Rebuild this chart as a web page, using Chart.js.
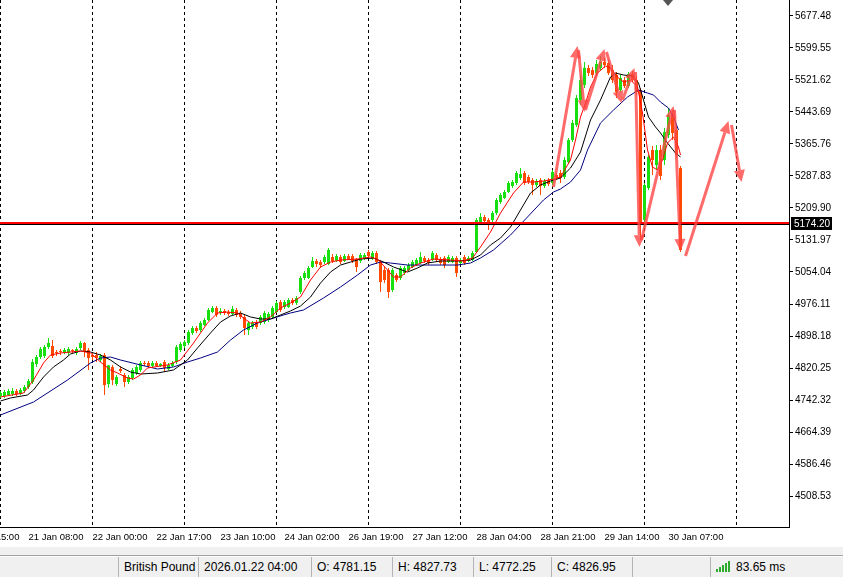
<!DOCTYPE html>
<html>
<head>
<meta charset="utf-8">
<title>British Pound H1</title>
<script src="https://cdn.jsdelivr.net/npm/chart.js@4.4.1/dist/chart.umd.min.js"></script>
<style>
    html, body { margin: 0; padding: 0; background: #fff; }
    #wrap { position: relative; width: 843px; height: 577px; overflow: hidden; font-family: "Liberation Sans", Arial, sans-serif; }
    #chart { position: absolute; left: 0; top: 0; }
    #shift { position: absolute; left: 663px; top: 0; width: 0; height: 0;
             border-left: 5px solid transparent; border-right: 5px solid transparent; border-top: 6px solid #555; }
    #tabs { position: absolute; left: 0; top: 547px; width: 843px; height: 8px; background: #f0f0f0; border-bottom: 1px solid #a0a0a0; }
    #status { position: absolute; left: 0; top: 557px; width: 843px; height: 20px; background: #f0f0f0; font-size: 12px; color: #000; }
    .cell { position: absolute; top: 0; height: 20px; line-height: 21px; white-space: nowrap; overflow: hidden;
            border-left: 1px solid #b4b4b4; padding-left: 5px; box-sizing: border-box; }
    .sig { position: absolute; bottom: 5px; width: 2px; background: #2eaa2e; }
</style>
</head>
<body>
<div id="wrap">
    <canvas id="chart" width="843" height="548"></canvas>
    <div id="shift"></div>
    <div id="tabs"></div>
    <div id="status"></div>
</div>
<script>
// right price scale
const yTicks = [5677.48, 5599.55, 5521.62, 5443.69, 5365.76, 5287.83, 5209.90, 5131.97,
                5054.04, 4976.11, 4898.18, 4820.25, 4742.32, 4664.39, 4586.46, 4508.53];

// time scale (bar index -> label)
const timeIdx = [-9, 7, 23, 39, 55, 71, 87, 103, 119, 135, 151, 167];
const timeLabels = ['20 Jan 15:00', '21 Jan 08:00', '22 Jan 00:00', '22 Jan 17:00', '23 Jan 10:00', '24 Jan 02:00',
                    '26 Jan 19:00', '27 Jan 12:00', '28 Jan 04:00', '28 Jan 21:00', '29 Jan 14:00', '30 Jan 07:00'];
const daySeparators = [0, 23, 46, 69, 92, 115, 138, 161, 184];

// H1 candles
const opens = [4752.1,4752.1,4754.5,4757.0,4764.3,4757.0,4764.3,4774.0,4786.1,4830.0,
    4847.0,4849.5,4871.4,4873.8,4859.2,4861.7,4856.8,4856.8,4864.1,4856.8,
    4869.0,4881.1,4864.1,4851.9,4851.9,4839.7,4851.9,4781.15,4822.7,4781.3,
    4817.8,4803.2,4786.1,4795.9,4808.1,4815.4,4832.4,4832.4,4825.2,4832.4,
    4825.2,4834.8,4817.8,4825.2,4834.8,4864.1,4873.8,4881.1,4905.5,4917.7,
    4912.8,4925.0,4937.1,4956.6,4966.4,4954.2,4959.1,4956.6,4951.8,4961.5,
    4954.2,4944.5,4912.8,4920.1,4932.2,4929.8,4932.2,4937.1,4944.5,4956.6,
    4980.9,4968.8,4968.8,4985.8,4978.5,5005.3,5039.4,5039.4,5066.2,5080.8,
    5078.3,5078.3,5073.5,5090.5,5080.8,5090.5,5080.8,5092.9,5092.9,5085.6,
    5080.8,5085.6,5102.7,5085.6,5100.3,5078.3,5058.9,5058.9,5010.2,5046.7,
    5039.4,5051.6,5058.9,5066.2,5071.0,5075.9,5088.1,5083.2,5083.2,5095.4,
    5085.6,5088.1,5078.3,5078.3,5088.1,5075.9,5090.5,5080.8,5083.2,5102.7,
    5173.4,5188.0,5180.7,5180.7,5197.7,5224.5,5234.2,5248.8,5263.5,5270.8,
    5283.0,5295.1,5285.4,5278.1,5265.9,5278.1,5263.5,5278.1,5270.8,5290.3,
    5295.1,5285.4,5321.9,5375.5,5412.0,5472.9,5509.4,5550.8,5545.9,5538.6,
    5550.8,5565.5,5563.0,5545.9,5533.8,5497.2,5521.6,5507.0,5536.2,5521.6,
    5497.2,5180.7,5258.6,5351.1,5314.6,5351.1,5326.8,5387.7,5436.4,5399.8,
    5307.3];
const highs = [4764.3,4766.7,4769.1,4771.6,4769.1,4771.6,4778.9,4793.4,4842.1,4851.9,
    4871.4,4876.3,4893.3,4888.4,4864.1,4866.5,4869.0,4871.4,4866.5,4871.4,
    4886.0,4883.5,4869.0,4856.8,4859.2,4854.4,4856.8,4827.73,4827.6,4803.2,
    4825.2,4808.1,4803.2,4820.3,4827.6,4837.3,4837.3,4837.3,4837.3,4837.3,
    4832.4,4839.7,4832.4,4837.3,4876.3,4883.5,4888.4,4912.8,4922.5,4922.5,
    4934.7,4942.0,4966.4,4971.2,4971.2,4966.4,4963.9,4961.5,4971.2,4966.4,
    4959.1,4949.3,4934.7,4934.7,4937.1,4949.3,4959.1,4956.6,4971.2,4983.4,
    4985.8,4985.8,4990.7,4990.7,4995.5,5044.2,5056.4,5068.6,5090.5,5085.6,
    5083.2,5095.4,5112.5,5097.8,5097.8,5095.4,5097.8,5097.8,5097.8,5088.1,
    5100.3,5100.3,5107.6,5105.2,5105.2,5083.2,5066.2,5063.8,5063.8,5051.6,
    5068.6,5068.6,5075.9,5083.2,5088.1,5102.7,5092.9,5088.1,5105.2,5100.3,
    5090.5,5092.9,5095.4,5092.9,5092.9,5088.1,5095.4,5092.9,5105.2,5185.5,
    5197.7,5192.8,5185.5,5202.6,5234.2,5246.4,5253.7,5275.6,5278.1,5300.0,
    5307.3,5300.0,5290.3,5283.0,5280.5,5283.0,5280.5,5283.0,5302.4,5295.1,
    5302.4,5334.1,5380.3,5424.2,5485.1,5533.8,5565.5,5558.1,5553.2,5570.3,
    5580.1,5575.2,5570.3,5558.1,5541.1,5533.8,5528.9,5541.1,5543.5,5531.3,
    5502.1,5270.8,5339.0,5360.9,5363.3,5363.3,5404.7,5453.4,5448.5,5409.6,
    5312.2];
const lows = [4747.2,4747.2,4752.1,4752.1,4752.1,4754.5,4759.4,4769.1,4781.3,4822.7,
    4842.1,4844.6,4866.5,4844.6,4849.5,4851.9,4854.4,4851.9,4856.8,4851.9,
    4864.1,4847.0,4815.4,4839.7,4834.8,4834.8,4754.5,4772.25,4778.9,4776.4,
    4808.1,4774.0,4781.3,4791.0,4803.2,4810.5,4825.2,4820.3,4822.7,4822.7,
    4822.7,4810.5,4815.4,4822.7,4830.0,4859.2,4869.0,4876.3,4900.6,4905.5,
    4907.9,4922.5,4934.7,4954.2,4944.5,4949.3,4949.3,4946.9,4949.3,4944.5,
    4939.6,4900.6,4900.6,4915.2,4915.2,4925.0,4927.4,4932.2,4942.0,4954.2,
    4956.6,4963.9,4966.4,4973.6,4973.6,5000.4,5034.5,5037.0,5063.8,5066.2,
    5063.8,5073.5,5071.0,5075.9,5078.3,5073.5,5078.3,5083.2,5075.9,5054.0,
    5075.9,5083.2,5088.1,5083.2,5073.5,5005.3,5027.2,4990.7,5005.3,5029.6,
    5034.5,5046.7,5056.4,5063.8,5068.6,5073.5,5075.9,5071.0,5080.8,5078.3,
    5071.0,5063.8,5075.9,5075.9,5041.8,5073.5,5071.0,5078.3,5080.8,5100.3,
    5168.5,5173.4,5156.3,5175.8,5192.8,5219.6,5231.8,5246.4,5258.6,5265.9,
    5278.1,5265.9,5268.3,5241.6,5261.0,5241.6,5258.6,5263.5,5265.9,5278.1,
    5270.8,5280.5,5317.0,5370.6,5407.2,5460.7,5502.1,5531.3,5526.5,5533.8,
    5545.9,5550.8,5533.8,5514.3,5477.8,5492.4,5502.1,5502.1,5516.7,5485.1,
    5132.0,5163.6,5253.7,5290.3,5302.4,5278.1,5314.6,5380.3,5375.5,5331.7,
    5102.7];
const closes = [4759.4,4761.8,4764.3,4764.3,4757.0,4766.7,4774.0,4788.6,4834.8,4847.0,
    4866.5,4871.4,4881.1,4849.5,4856.8,4859.2,4864.1,4866.5,4861.7,4866.5,
    4881.1,4861.7,4844.6,4847.0,4844.6,4849.5,4778.9,4826.95,4791.0,4798.3,
    4812.9,4786.1,4798.3,4815.4,4822.7,4832.4,4830.0,4825.2,4832.4,4825.2,
    4830.0,4820.3,4827.6,4832.4,4871.4,4878.7,4883.5,4907.9,4917.7,4910.3,
    4929.8,4937.1,4961.5,4966.4,4949.3,4959.1,4954.2,4951.8,4963.9,4949.3,
    4944.5,4917.7,4929.8,4929.8,4920.1,4944.5,4954.2,4951.8,4966.4,4978.5,
    4961.5,4980.9,4985.8,4978.5,4990.7,5039.4,5051.6,5063.8,5080.8,5073.5,
    5071.0,5090.5,5107.6,5080.8,5092.9,5078.3,5092.9,5085.6,5080.8,5066.2,
    5095.4,5095.4,5092.9,5100.3,5078.3,5029.6,5034.5,5005.3,5058.9,5034.5,
    5063.8,5063.8,5071.0,5078.3,5083.2,5090.5,5080.8,5075.9,5100.3,5083.2,
    5075.9,5071.0,5090.5,5088.1,5051.6,5083.2,5075.9,5088.1,5100.3,5180.7,
    5188.0,5178.2,5168.5,5197.7,5229.4,5241.6,5248.8,5270.8,5273.2,5295.1,
    5292.7,5270.8,5273.2,5265.9,5275.6,5263.5,5275.6,5268.3,5297.6,5283.0,
    5283.0,5326.8,5375.5,5416.9,5477.8,5521.6,5551.4,5538.6,5533.8,5560.6,
    5565.5,5558.1,5538.6,5521.6,5492.4,5526.5,5507.0,5536.2,5521.6,5492.4,
    5175.8,5265.9,5334.1,5326.8,5351.1,5287.8,5395.0,5436.4,5392.6,5339.0,
    5107.6];

// moving averages (bar index, price)
const maFastIdx = [0,5.75,8.25,10.75,12.5,15,20,22.5,25,27.5,29.25,31.75,33.25,35,36.75,41.75,45,48.25,51.75,54.25,
    56.75,59.25,60.75,62.5,65,67.5,70,72.5,75,77.5,80,82.5,85,89.25,92.5,94.5,96.75,98.25,100,102.5,
    105,108.25,112.5,115.75,118,120,122.5,125,128.25,130.75,133.25,135.75,138.25,140,142.5,143.75,145,146.25,147.5,149.25,
    151.25,152.5,154.25,155.75,157.5,159.25,160.5,161.75,163,164.25,165.5,166.75,168.25,169.5,170];
const maFastVal = [4749.7,4759.4,4791.0,4832.4,4851.9,4856.8,4861.7,4856.8,4834.8,4815.4,4808.1,4795.9,4793.4,4803.2,4820.3,4827.6,4839.7,4881.1,4929.8,4954.2,
    4956.6,4954.2,4942.0,4929.8,4932.2,4944.5,4966.4,4978.5,4993.1,5034.5,5066.2,5078.3,5083.2,5085.6,5090.5,5083.2,5058.9,5041.8,5041.8,5063.8,
    5075.9,5085.6,5083.2,5080.8,5088.1,5114.9,5151.4,5197.7,5246.4,5273.2,5273.2,5275.6,5280.5,5285.4,5326.8,5375.5,5431.5,5465.6,5504.5,5538.6,
    5555.7,5550.8,5528.9,5516.7,5521.6,5504.5,5441.2,5351.1,5309.7,5302.4,5326.8,5368.2,5382.8,5358.4,5338.9];
const maMidIdx = [0,2.5,6.75,8.25,10.75,13.25,15.75,17.5,20,22.5,25,27.5,30,32.5,35,39.25,43.25,46.75,49.25,52.5,
    55,57.5,60,62.5,65,67.5,70,72.5,75,77.5,80,82.5,85,87.5,90,93.25,95.75,98.25,101.75,104.25,
    106.75,110,114.25,117.5,120,122.5,125,127.5,130,132.5,135,137.5,140,142.5,145,147.5,150,152.5,153.75,155.75,
    158,159.5,160.75,162,163.75,165,166.75,168.75,170];
const maMidVal = [4739.9,4747.2,4754.5,4766.7,4798.3,4822.7,4839.7,4854.4,4861.7,4859.2,4851.9,4839.7,4822.7,4810.5,4805.6,4808.1,4815.4,4839.7,4869.0,4905.5,
    4932.2,4946.9,4954.2,4944.5,4939.6,4939.6,4949.3,4959.1,4971.2,4993.1,5027.2,5054.0,5071.0,5078.3,5085.6,5088.1,5078.3,5066.2,5054.0,5063.8,
    5075.9,5080.8,5080.8,5083.2,5095.4,5119.8,5136.8,5163.6,5205.0,5246.4,5265.9,5275.6,5283.0,5307.3,5346.2,5424.2,5472.9,5528.9,5538.6,5533.8,
    5531.3,5514.3,5472.9,5431.5,5407.2,5392.6,5368.2,5343.8,5334.1];
const maSlowIdx = [0,8.25,16.75,22.5,25,27.5,30,35,39.25,43.25,46.75,50,54.25,57.5,60.75,64.25,67.5,70.75,72.5,75.75,
    80.75,85,89.25,92.5,95,97.5,101.75,110,114.25,117.5,120,123.25,127.5,131.75,135.75,138.25,140,142.5,145,146.75,
    150,153.25,156.75,159.5,161.75,163.25,165,167,168.25,169.5];
const maSlowVal = [4705.8,4737.4,4791.0,4832.4,4844.6,4847.0,4839.7,4827.6,4817.8,4822.7,4834.8,4844.6,4859.2,4888.4,4912.8,4929.8,4939.6,4949.3,4954.2,4961.5,
    4990.7,5017.5,5046.7,5071.0,5078.3,5075.9,5071.0,5071.0,5071.0,5075.9,5088.1,5107.6,5144.1,5188.0,5229.4,5248.8,5256.2,5273.2,5302.4,5351.1,
    5416.9,5448.5,5480.2,5497.2,5489.9,5485.1,5468.0,5453.4,5431.5,5399.8];

// horizontal price line
const hlinePrice = 5174.20;

// hand drawn arrows (bar index, price)
const arrowFromX = [138.25, 144.5, 146.25, 151.5, 155.5, 158.75, 160.25, 168.5, 171.25, 182.75];
const arrowFromY = [5261.0, 5594.6, 5448.5, 5589.8, 5472.9, 5541.1, 5131.9, 5448.5, 5093.0, 5412.0];
const arrowToX = [144.25, 146, 151, 155.25, 158.5, 159.75, 168.25, 170, 182, 185.25];
const arrowToY = [5604.4, 5443.6, 5597.1, 5465.6, 5550.8, 5114.9, 5458.3, 5105.1, 5421.7, 5273.2];

// status bar bar (22 Jan 04:00)
const statusBar = 27;
const statusName = 'British Pound';
const statusTime = '2026.01.22 04:00';
const statusPing = '83.65 ms';

const BULL = '#18e010';
const BEAR = '#ff4a00';
const FONT = 'Liberation Sans';

const CANVAS_H = 548;
const PLOT_BOTTOM = 527;
const PLOT_RIGHT = 789;
const X_MIN = -0.125;
const X_MAX = X_MIN + PLOT_RIGHT / 4;

// no automatic label padding, the plot must fill the canvas edge to edge
function noPad(scale) {
    scale.paddingLeft = 0;
    scale.paddingRight = 0;
    scale.paddingTop = 0;
    scale.paddingBottom = 0;
}

document.addEventListener("DOMContentLoaded", function() {
    const candleColors = opens.map((o, i) => closes[i] >= o ? BULL : BEAR);

    const wickData = opens.map((o, i) => ({x: i, y: [lows[i], highs[i]]}));
    const bodyData = opens.map((o, i) => ({x: i, y: [o, closes[i]]}));

    function toPoints(xs, ys) {
        return xs.map((x, i) => ({x: x, y: ys[i]}));
    }

    // overlay: horizontal line, arrows, price box
    const overlay = {
        id: 'overlay',
        afterDatasetsDraw(chart) {
            const {ctx, chartArea, scales} = chart;
            const yh = Math.round(scales.y.getPixelForValue(hlinePrice));
            ctx.save();
            ctx.fillStyle = '#000';
            ctx.fillRect(chartArea.left, yh + 1, chartArea.right - chartArea.left, 1);
            ctx.fillStyle = '#ff0000';
            ctx.fillRect(chartArea.left, yh - 1, chartArea.right - chartArea.left, 2);

            ctx.strokeStyle = 'rgba(255,70,70,0.8)';
            ctx.fillStyle = 'rgba(255,70,70,0.8)';
            ctx.lineWidth = 3;
            ctx.lineCap = 'butt';
            for (let i = 0; i < arrowFromX.length; i++) {
                const x1 = scales.x.getPixelForValue(arrowFromX[i]);
                const y1 = scales.y.getPixelForValue(arrowFromY[i]);
                const x2 = scales.x.getPixelForValue(arrowToX[i]);
                const y2 = scales.y.getPixelForValue(arrowToY[i]);
                const len = Math.hypot(x2 - x1, y2 - y1);
                const ux = (x2 - x1) / len, uy = (y2 - y1) / len;
                const head = 12, half = 5.5;
                const bx = x2 - ux * head, by = y2 - uy * head;
                ctx.beginPath();
                ctx.moveTo(x1, y1);
                ctx.lineTo(bx, by);
                ctx.stroke();
                ctx.beginPath();
                ctx.moveTo(x2, y2);
                ctx.lineTo(bx - uy * half, by + ux * half);
                ctx.lineTo(bx + uy * half, by - ux * half);
                ctx.closePath();
                ctx.fill();
            }
            ctx.restore();
        },
        afterDraw(chart) {
            const {ctx, chartArea, scales} = chart;
            const yh = Math.round(scales.y.getPixelForValue(hlinePrice));
            ctx.save();
            ctx.fillStyle = '#000';
            ctx.fillRect(chartArea.right + 2, yh - 6, 41, 13);
            ctx.fillStyle = '#fff';
            ctx.font = '10px "' + FONT + '"';
            ctx.textBaseline = 'middle';
            ctx.fillText(hlinePrice.toFixed(2), chartArea.right + 5, yh + 1);
            ctx.restore();
        }
    };

    const ctx = document.getElementById('chart').getContext('2d');
    new Chart(ctx, {
        type: 'bar',
        data: {
            datasets: [
                {type: 'line', data: toPoints(maFastIdx, maFastVal), borderColor: '#ff0000', borderWidth: 1, pointRadius: 0, fill: false, order: 0},
                {type: 'line', data: toPoints(maMidIdx, maMidVal), borderColor: '#000000', borderWidth: 1, pointRadius: 0, fill: false, order: 0},
                {type: 'line', data: toPoints(maSlowIdx, maSlowVal), borderColor: '#000080', borderWidth: 1, pointRadius: 0, fill: false, order: 0},
                {data: bodyData, backgroundColor: candleColors, barThickness: 3, maxBarThickness: 3, minBarLength: 1,
                 grouped: false, borderWidth: 0, inflateAmount: 0, barPercentage: 1, categoryPercentage: 1, order: 1},
                {data: wickData, backgroundColor: candleColors, barThickness: 1, maxBarThickness: 1,
                 grouped: false, borderWidth: 0, inflateAmount: 0, barPercentage: 1, categoryPercentage: 1, order: 2}
            ]
        },
        options: {
            responsive: false,
            animation: false,
            devicePixelRatio: 1,
            layout: {padding: 0},
            plugins: {legend: {display: false}, tooltip: {enabled: false}},
            scales: {
                x: {
                    type: 'linear', position: 'bottom', min: X_MIN, max: X_MAX, offset: false, bounds: 'data',
                    grid: {display: true, drawOnChartArea: false, drawTicks: false, offset: false},
                    border: {display: true, color: '#000', width: 1},
                    afterBuildTicks: scale => { scale.ticks = timeIdx.map(v => ({value: v})); },
                    afterFit: scale => { scale.height = CANVAS_H - PLOT_BOTTOM; noPad(scale); },
                    ticks: {
                        autoSkip: false, maxRotation: 0, align: 'start', padding: 5, color: '#000',
                        font: {family: FONT, size: 9.5},
                        callback: v => timeLabels[timeIdx.indexOf(v)]
                    }
                },
                x2: {
                    type: 'linear', position: 'top', min: X_MIN, max: X_MAX, offset: false, bounds: 'data',
                    grid: {display: true, drawOnChartArea: true, drawTicks: false, color: '#000', lineWidth: 1, offset: false},
                    border: {display: false, dash: [3, 3]},
                    afterBuildTicks: scale => { scale.ticks = daySeparators.map(v => ({value: v})); },
                    afterFit: scale => { scale.height = 0; noPad(scale); },
                    ticks: {display: false}
                },
                y: {
                    type: 'linear', position: 'right', min: 4433.04, max: 5716.44, bounds: 'data',
                    grid: {display: true, drawOnChartArea: false, drawTicks: true, tickLength: 4, color: '#000'},
                    border: {display: true, color: '#000', width: 1},
                    afterBuildTicks: scale => { scale.ticks = yTicks.map(v => ({value: v})); },
                    afterFit: scale => { scale.width = 843 - PLOT_RIGHT; noPad(scale); },
                    ticks: {
                        autoSkip: false, padding: 2, color: '#000',
                        font: {family: FONT, size: 10},
                        callback: v => v.toFixed(2)
                    }
                }
            }
        },
        plugins: [overlay]
    });

    // status bar
    const status = document.getElementById('status');
    const cells = [
        [118, 80, statusName],
        [198, 113, statusTime],
        [311, 81, 'O: ' + opens[statusBar].toFixed(2)],
        [392, 81, 'H: ' + highs[statusBar].toFixed(2)],
        [473, 78, 'L: ' + lows[statusBar].toFixed(2)],
        [551, 81, 'C: ' + closes[statusBar].toFixed(2)],
        [632, 78, ''],
        [710, 133, '']
    ];
    cells.forEach(c => {
        const d = document.createElement('div');
        d.className = 'cell';
        d.style.left = c[0] + 'px';
        d.style.width = c[1] + 'px';
        d.textContent = c[2];
        status.appendChild(d);
    });
    // connection icon + ping
    const sigH = [3, 5, 7, 9, 11];
    sigH.forEach((h, i) => {
        const b = document.createElement('div');
        b.className = 'sig';
        b.style.left = (716 + i * 3) + 'px';
        b.style.height = h + 'px';
        status.appendChild(b);
    });
    const ping = document.createElement('div');
    ping.style.cssText = 'position:absolute;left:736px;top:0;line-height:21px;';
    ping.textContent = statusPing;
    status.appendChild(ping);
});
</script>
</body>
</html>
